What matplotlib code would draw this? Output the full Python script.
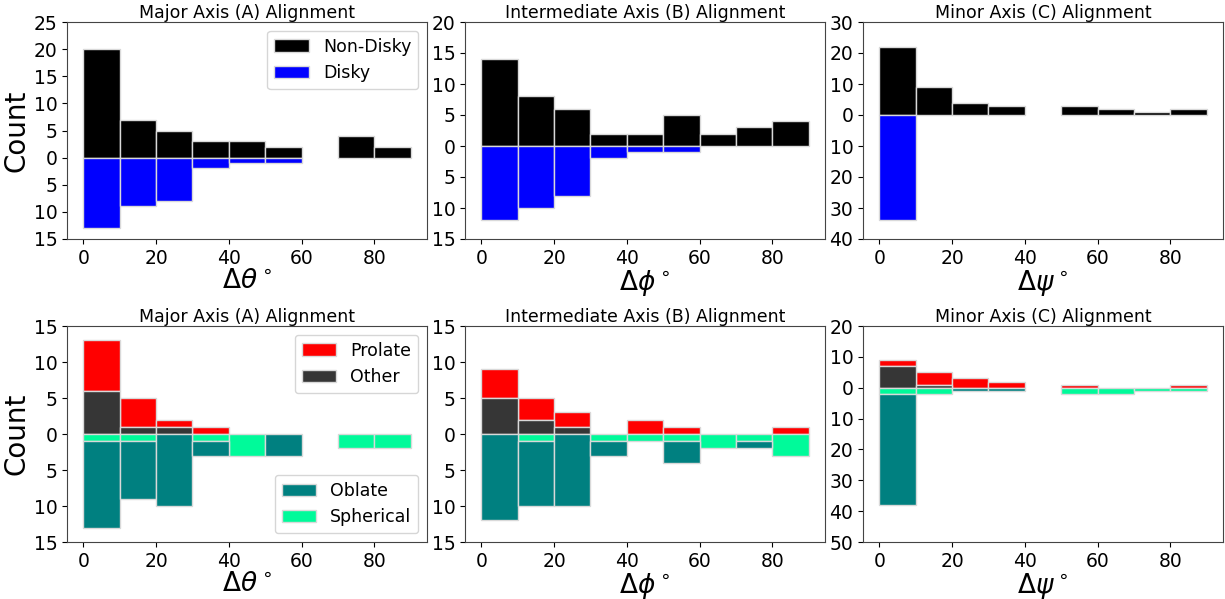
import numpy as np
import matplotlib
matplotlib.use("Agg")
import matplotlib.pyplot as plt
from matplotlib.ticker import FuncFormatter, MultipleLocator

# bin left edges, degrees
bins = np.arange(0, 90, 10)

# top row: non-disky (up) vs disky (down)
nondisky_A = [20, 7, 5, 3, 3, 2, 0, 4, 2]
disky_A = [13, 9, 8, 2, 1, 1, 0, 0, 0]
nondisky_B = [14, 8, 6, 2, 2, 5, 2, 3, 4]
disky_B = [12, 10, 8, 2, 1, 1, 0, 0, 0]
nondisky_C = [22, 9, 4, 3, 0, 3, 2, 1, 2]
disky_C = [34, 0, 0, 0, 0, 0, 0, 0, 0]

# bottom row: other + prolate (up), spherical + oblate (down)
other_A = [6, 1, 1, 0, 0, 0, 0, 0, 0]
prolate_A = [7, 4, 1, 1, 0, 0, 0, 0, 0]
spherical_A = [1, 1, 0, 1, 3, 0, 0, 2, 2]
oblate_A = [12, 8, 10, 2, 0, 3, 0, 0, 0]

other_B = [5, 2, 1, 0, 0, 0, 0, 0, 0]
prolate_B = [4, 3, 2, 0, 2, 1, 0, 0, 1]
spherical_B = [0, 1, 0, 1, 1, 1, 2, 1, 3]
oblate_B = [12, 9, 10, 2, 0, 3, 0, 1, 0]

other_C = [7, 1, 0, 0, 0, 0, 0, 0, 0]
prolate_C = [2, 4, 3, 2, 0, 1, 0, 0, 1]
spherical_C = [2, 2, 0, 0, 0, 2, 2, 1, 1]
oblate_C = [36, 0, 1, 1, 0, 0, 0, 0, 0]

titles = ["Major Axis (A) Alignment", "Intermediate Axis (B) Alignment",
          "Minor Axis (C) Alignment"]
xlabels = [r"$\Delta\theta^\circ$", r"$\Delta\phi^\circ$", r"$\Delta\psi^\circ$"]
top_ylims = [(-15, 25), (-15, 20), (-40, 30)]
bot_ylims = [(-15, 15), (-15, 15), (-50, 20)]
top_steps = [5, 5, 10]
bot_steps = [5, 5, 10]

edge = "#d9d9d9"
fig = plt.figure(figsize=(12.25, 5.99), dpi=100)

lefts = [67, 465, 863]
W, H = 1225.0, 599.0

absfmt = FuncFormatter(lambda v, p: "%d" % abs(v))


def bars(ax, heights, bottom=None, **kw):
    # skip empty bins so no stray outline is drawn at zero
    h = np.asarray(heights, dtype=float)
    b = np.zeros_like(h) if bottom is None else np.asarray(bottom, dtype=float)
    m = h != 0
    return ax.bar(bins[m], h[m], bottom=b[m], width=10, align="edge",
                  edgecolor=edge, linewidth=1, **kw)


def style(ax, i, ylim, step, first):
    ax.set_title(titles[i], fontsize=12.5, pad=3)
    ax.set_xlabel(xlabels[i], fontsize=19, labelpad=0)
    ax.set_ylim(*ylim)
    ax.set_xlim(-4.5, 94.5)
    ax.yaxis.set_major_locator(MultipleLocator(step))
    ax.yaxis.set_major_formatter(absfmt)
    ax.xaxis.set_major_locator(MultipleLocator(20))
    ax.tick_params(labelsize=13.5)
    for s in ax.spines.values():
        s.set_color("#444444")
    if first:
        ax.set_ylabel("Count", fontsize=20, labelpad=2)


top_data = [(nondisky_A, disky_A), (nondisky_B, disky_B), (nondisky_C, disky_C)]
bot_data = [(other_A, prolate_A, spherical_A, oblate_A),
            (other_B, prolate_B, spherical_B, oblate_B),
            (other_C, prolate_C, spherical_C, oblate_C)]

for i in range(3):
    # top row
    ax = fig.add_axes([lefts[i] / W, (H - 239) / H, 360 / W, 217 / H])
    nd, dk = top_data[i]
    bars(ax, nd, color="black", label="Non-Disky")
    bars(ax, -np.array(dk), color="blue", label="Disky")
    style(ax, i, top_ylims[i], top_steps[i], i == 0)
    if i == 0:
        ax.legend(loc="upper right", fontsize=12.5)

    # bottom row
    ax = fig.add_axes([lefts[i] / W, (H - 542) / H, 360 / W, 216 / H])
    ot, pr, sp, ob = [np.array(a) for a in bot_data[i]]
    hp = bars(ax, pr, bottom=ot, color="red", label="Prolate")
    ho = bars(ax, ot, color="#363636", label="Other")
    hs = bars(ax, -sp, color="#00fa9a", label="Spherical")
    hb = bars(ax, -ob, bottom=-sp, color="teal", label="Oblate")
    style(ax, i, bot_ylims[i], bot_steps[i], i == 0)
    if i == 0:
        leg1 = ax.legend([hp, ho], ["Prolate", "Other"], loc="upper right",
                         fontsize=12.5)
        ax.add_artist(leg1)
        ax.legend([hb, hs], ["Oblate", "Spherical"], loc="lower right",
                  fontsize=12.5)

fig.savefig("out.png", dpi=100)
